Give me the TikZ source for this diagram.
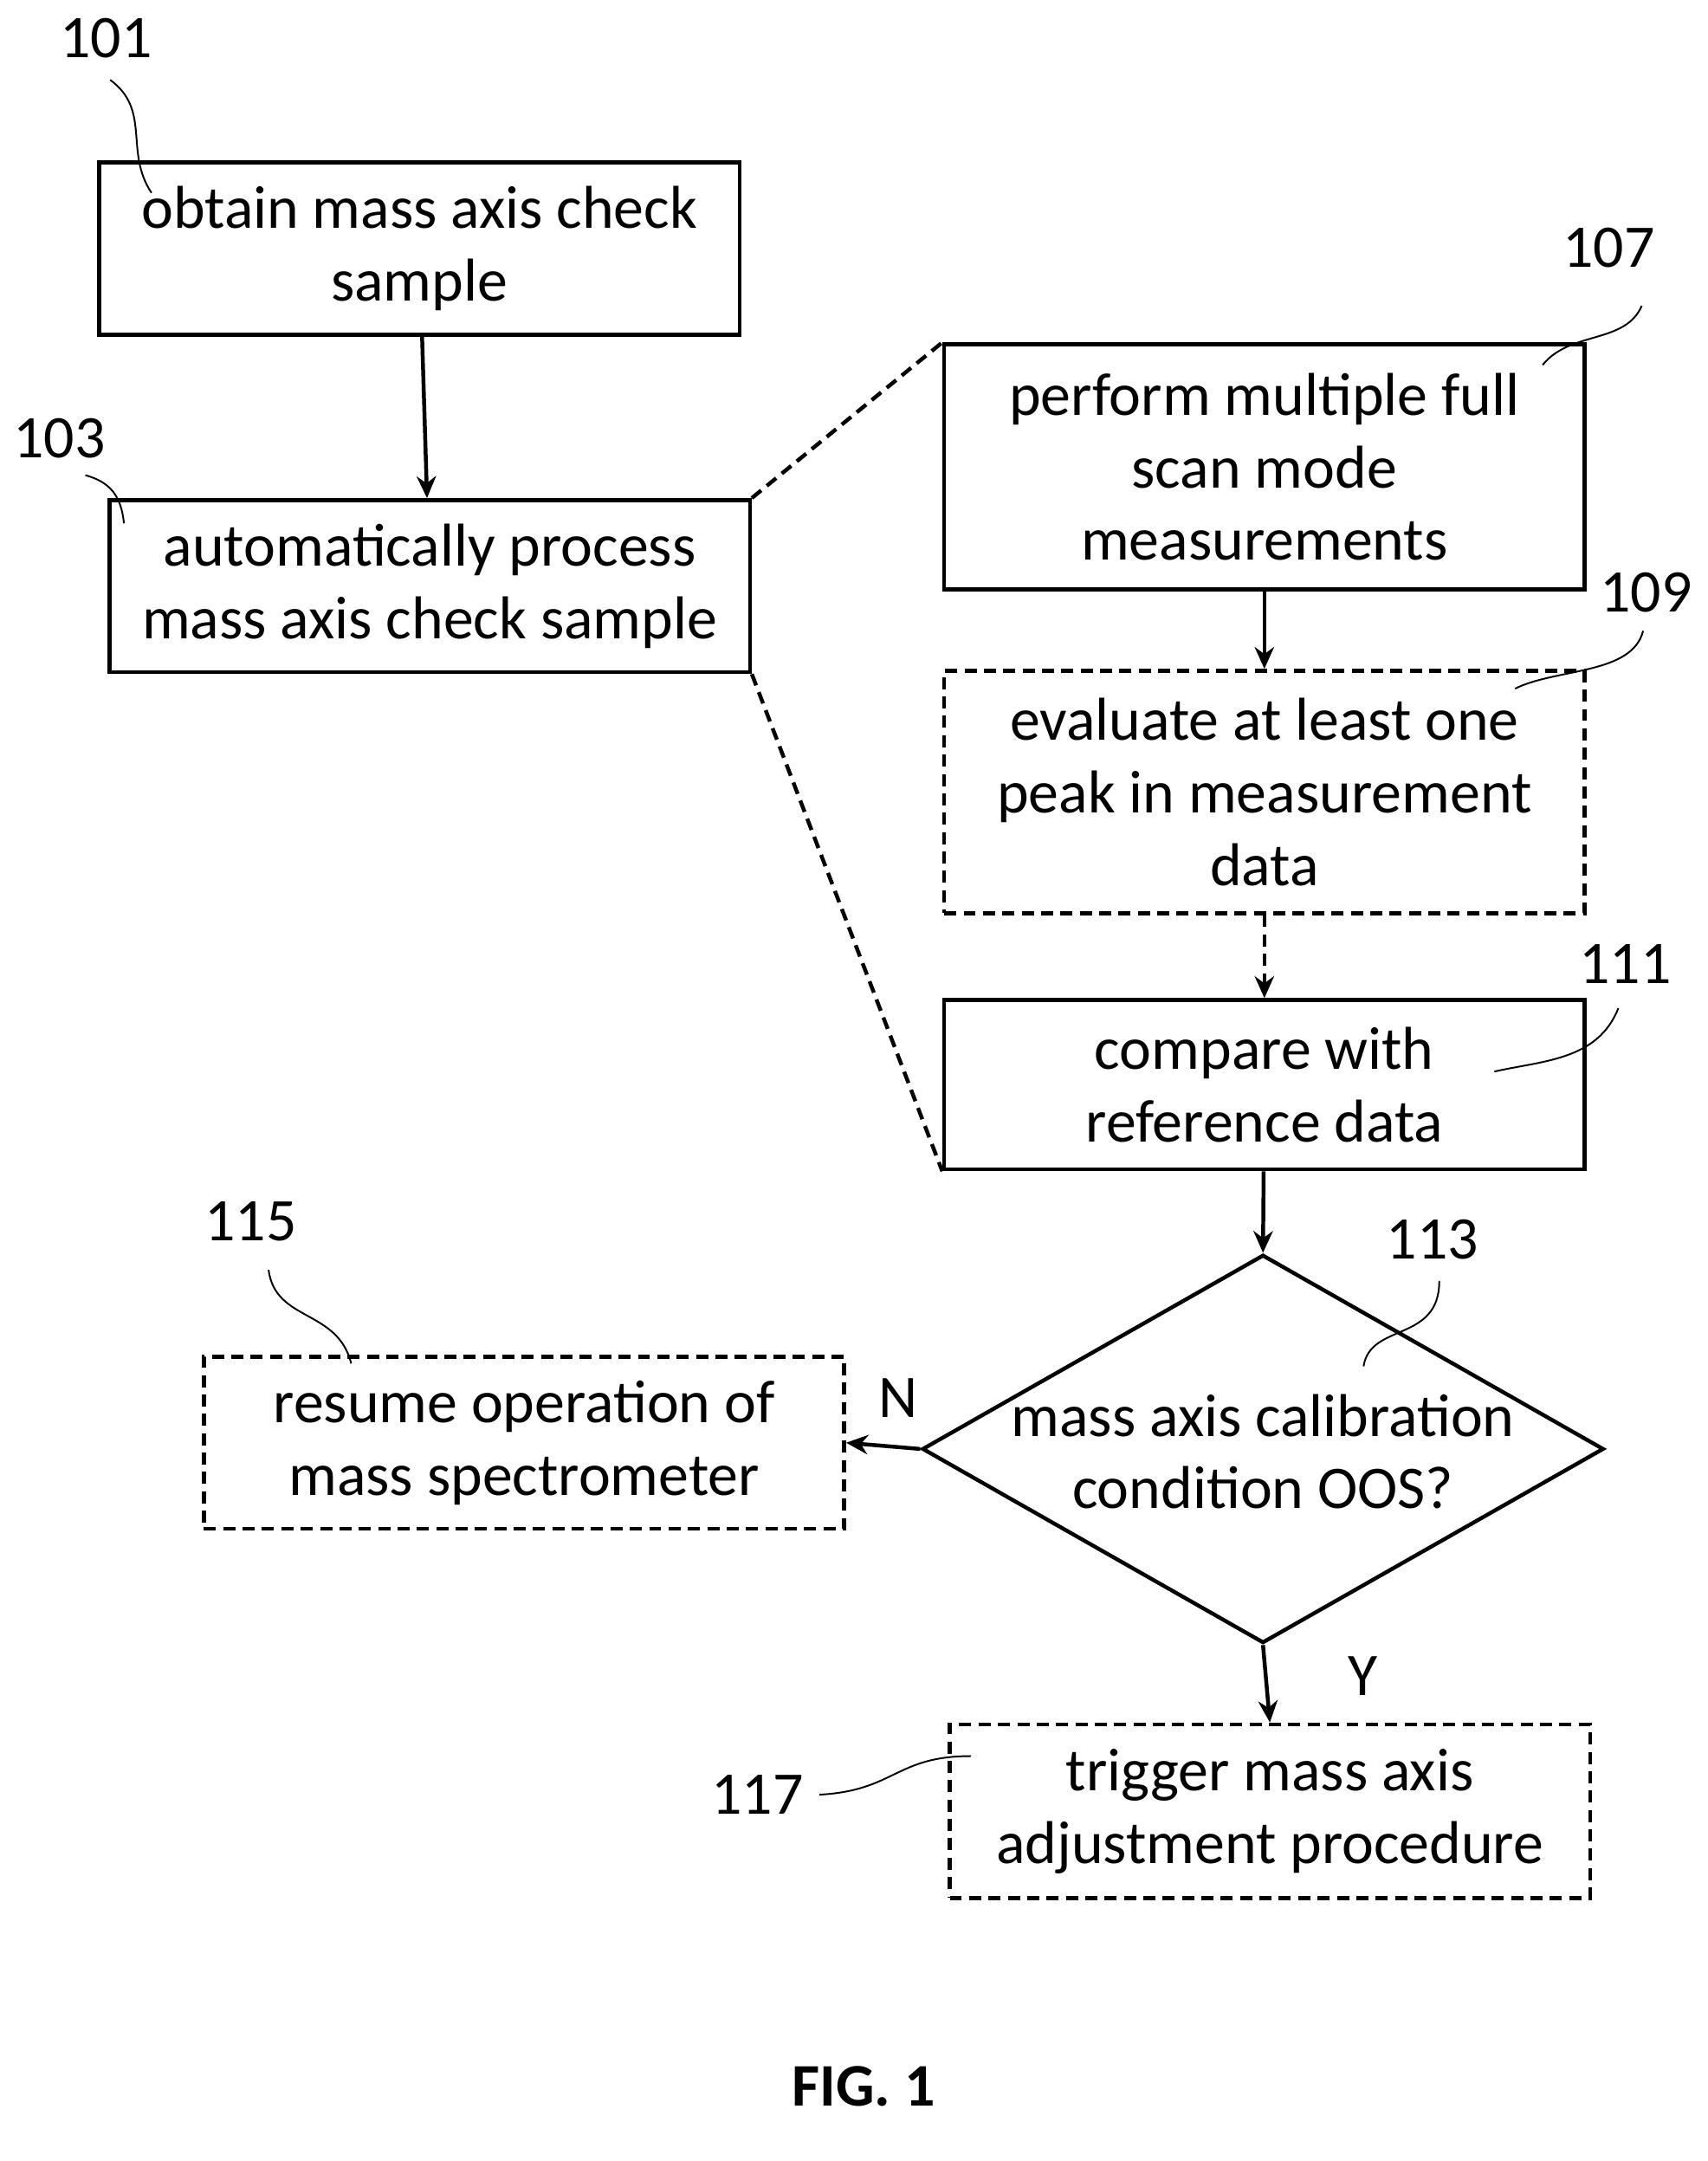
\documentclass[tikz,border=0pt]{standalone}
\usepackage{fontspec}
\setmainfont{Carlito}
\usetikzlibrary{shapes.geometric,arrows.meta}
\tikzset{box/.style={draw, line width=1.6pt, minimum width=9.3cm, align=center, font=\fontsize{25}{30}\selectfont},
dbox/.style={box, dash pattern=on 5pt off 3pt},
lbl/.style={font=\fontsize{25}{30}\selectfont},
lead/.style={line width=0.7pt},
flow/.style={line width=1.6pt, -{Stealth[length=9pt,width=8pt]}}}
\begin{document}
\begin{tikzpicture}[x=0.02cm,y=-0.02cm]
  \useasboundingbox (0,0) rectangle (1240,1569);

  \node[box, minimum height=2.5cm] (s101) at (304.5,180.5) {obtain mass axis check\\sample};
  \node[box, minimum height=2.5cm] (s103) at (312,425.5) {automatically process\\mass axis check sample};
  \node[box, minimum height=3.56cm] (s107) at (918,339) {perform multiple full\\scan mode\\measurements};
  \node[dbox, minimum height=3.52cm] (s109) at (918,575) {evaluate at least one\\peak in measurement\\data};
  \node[box, minimum height=2.46cm] (s111) at (918,787.5) {compare with\\reference data};
  \node[draw, diamond, line width=1.6pt, minimum width=9.9cm, minimum height=5.64cm, inner sep=0pt] (s113) at (917,1052) {};
  \node[lbl, align=center] at (917,1054) {mass axis calibration\\condition OOS?};
  \node[dbox, minimum height=2.5cm] (s115) at (380.5,1047.5) {resume operation of\\mass spectrometer};
  \node[dbox, minimum height=2.52cm] (s117) at (922,1315) {trigger mass axis\\adjustment procedure};

  % flow
  \draw[flow] (s101) -- (s103);
  \draw[flow] (s107) -- (s109);
  \draw[flow, dash pattern=on 5pt off 3pt] (s109) -- (s111);
  \draw[flow] (s111) -- (s113.north);
  \draw[flow] (s113.west) -- (s115.east) node[lbl, pos=0.3, above=8pt] {N};
  \draw[flow] (s113.south) -- (s117.north) node[lbl, pos=0.4, right=30pt] {Y};

  % zoom lines
  \draw[line width=1.6pt, dash pattern=on 5pt off 3pt] (s103.north east) -- (s107.north west);
  \draw[line width=1.6pt, dash pattern=on 5pt off 3pt] (s103.south east) -- (s111.south west);

  % reference numerals
  \node[lbl] (n101) at (77,28) {101};
  \node[lbl] (n103) at (43,318) {103};
  \node[lbl] (n107) at (1168,180) {107};
  \node[lbl] (n109) at (1195,430) {109};
  \node[lbl] (n111) at (1180,700) {111};
  \node[lbl] (n113) at (1040,900) {113};
  \node[lbl] (n115) at (182,887) {115};
  \node[lbl] (n117) at (550,1303) {117};
  \draw[lead] (80,58) .. controls (110,80) and (90,110) .. (110,140);
  \draw[lead] (62,345) .. controls (80,350) and (88,360) .. (90,380);
  \draw[lead] (1192,222) .. controls (1180,250) and (1140,240) .. (1120,265);
  \draw[lead] (1193,458) .. controls (1185,490) and (1130,485) .. (1100,500);
  \draw[lead] (1175,732) .. controls (1160,770) and (1120,770) .. (1085,778);
  \draw[lead] (1045,930) .. controls (1045,975) and (995,960) .. (990,992);
  \draw[lead] (195,922) .. controls (200,960) and (245,950) .. (255,990);
  \draw[lead] (595,1303) .. controls (650,1300) and (650,1275) .. (705,1275);

  \node[font=\fontsize{25}{30}\selectfont\bfseries] (fig) at (627,1515) {FIG. 1};
\end{tikzpicture}
\end{document}
